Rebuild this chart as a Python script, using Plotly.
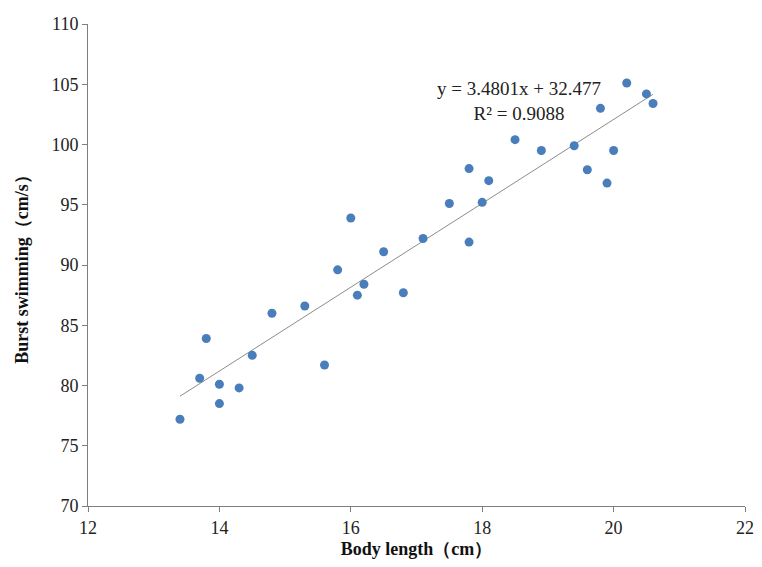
import plotly.graph_objects as go

body_length = [13.4, 13.7, 13.8, 14.0, 14.0, 14.3, 14.5, 14.8, 15.3, 15.6, 15.8, 16.0,
               16.1, 16.2, 16.5, 16.8, 17.1, 17.5, 17.8, 17.8, 18.0, 18.1, 18.5, 18.9,
               19.4, 19.6, 19.8, 19.9, 20.0, 20.2, 20.5, 20.6]
burst_speed = [77.2, 80.6, 83.9, 80.1, 78.5, 79.8, 82.5, 86.0, 86.6, 81.7, 89.6, 93.9,
               87.5, 88.4, 91.1, 87.7, 92.2, 95.1, 98.0, 91.9, 95.2, 97.0, 100.4, 99.5,
               99.9, 97.9, 103.0, 96.8, 99.5, 105.1, 104.2, 103.4]
slope = 3.4801
intercept = 32.477
r_squared = 0.9088

x_line = [min(body_length), max(body_length)]
y_line = [slope * v + intercept for v in x_line]

font_family = "Liberation Serif"

fig = go.Figure()
fig.add_trace(go.Scatter(x=x_line, y=y_line, mode="lines",
                         line=dict(color="#8c8c8c", width=1), hoverinfo="skip",
                         showlegend=False))
fig.add_trace(go.Scatter(x=body_length, y=burst_speed, mode="markers",
                         marker=dict(color="#4a7ebb", size=9), showlegend=False))

fig.add_annotation(
    xref="x", yref="paper",
    x=18.56, y=(506 - 101) / 482,
    text=f"y = {slope}x + {intercept}<br>R² = {r_squared}",
    showarrow=False, align="center", xanchor="center", yanchor="middle",
    font=dict(family=font_family, size=19, color="#222222"))

axis_common = dict(showgrid=False, zeroline=False, showline=True, linecolor="#7f7f7f",
                   linewidth=1, ticks="outside", ticklen=5, tickcolor="#7f7f7f",
                   ticklabeloverflow="allow", automargin=False,
                   tickfont=dict(family=font_family, size=18, color="#222222"))

fig.update_layout(
    width=746, height=551,
    margin=dict(l=80, r=9, t=16, b=53),
    paper_bgcolor="white", plot_bgcolor="white",
    xaxis=dict(range=[12, 22], tickvals=[12, 14, 16, 18, 20, 22],
               title=dict(text="<b>Body length（cm）</b>", standoff=12,
                          font=dict(family=font_family, size=18, color="#111111")),
               **axis_common),
    yaxis=dict(range=[70, 110], tickvals=list(range(70, 111, 5)),
               title=dict(text="<b>Burst swimming（cm/s）</b>", standoff=18,
                          font=dict(family=font_family, size=18, color="#111111")),
               **axis_common),
)

fig.write_html("out.html")
